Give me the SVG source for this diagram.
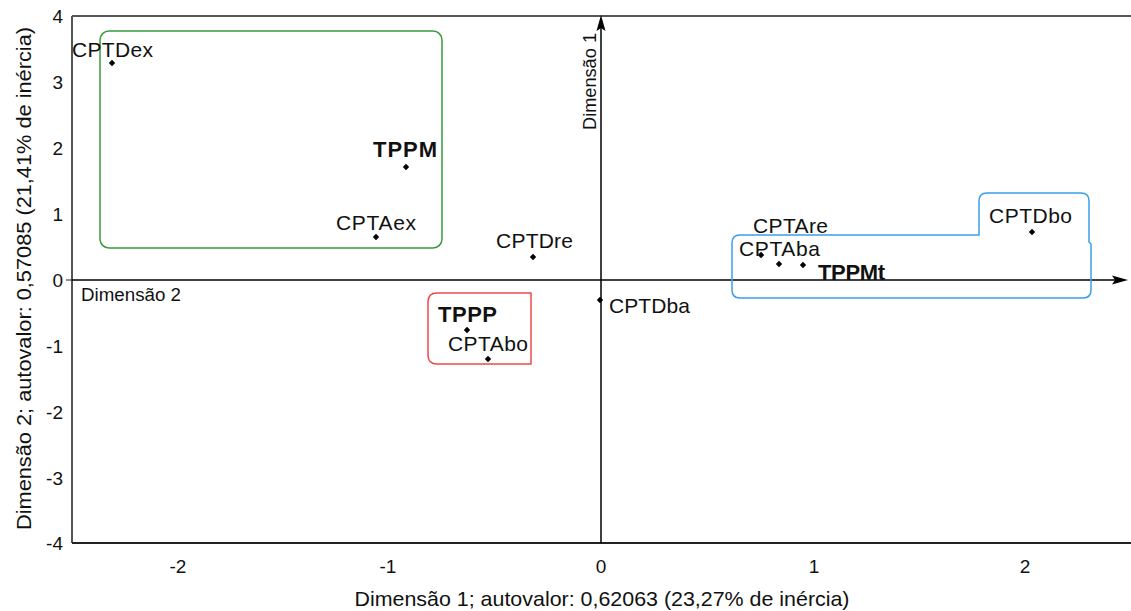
<svg xmlns="http://www.w3.org/2000/svg" width="1131" height="611" viewBox="0 0 1131 611">
<style>
text{font-family:"Liberation Sans",Arial,sans-serif;fill:#111}
.lbl{font-size:21px}
.bl{font-size:22px;font-weight:bold}
.tick{font-size:19px}
.title{font-size:21px}
.ax{font-size:18px}
.pt{fill:#000}
.frame{stroke:#555;stroke-width:2;fill:none}
.axis{stroke:#000;stroke-width:1.5;fill:none}
.box{fill:none;stroke-width:1.5}
</style>
<defs>
<path id="dm" d="M0,-3.2 L3.2,0 L0,3.2 L-3.2,0 Z"/>
</defs>
<rect width="1131" height="611" fill="#fff"/>

<g id="frame">
<line class="frame" x1="72" y1="16" x2="1131" y2="16"/>
<line class="frame" x1="72" y1="16" x2="72" y2="543"/>
<line x1="72" y1="543" x2="1131" y2="543" stroke="#222" stroke-width="2"/>
<line x1="66" y1="280" x2="72" y2="280" stroke="#222" stroke-width="1"/>
</g>

<g id="yticks" class="tick" text-anchor="end">
<text x="63" y="23">4</text>
<text x="63" y="89">3</text>
<text x="63" y="155">2</text>
<text x="63" y="221">1</text>
<text x="63" y="287">0</text>
<text x="63" y="353">-1</text>
<text x="63" y="419">-2</text>
<text x="63" y="485">-3</text>
<text x="63" y="550">-4</text>
</g>
<g id="xticks" class="tick" text-anchor="middle">
<text x="178" y="573">-2</text>
<text x="388" y="573">-1</text>
<text x="601" y="573">0</text>
<text x="814" y="573">1</text>
<text x="1025" y="573">2</text>
</g>
<text id="xtitle" class="title" x="602" y="606" text-anchor="middle" textLength="495" lengthAdjust="spacingAndGlyphs">Dimensão 1; autovalor: 0,62063 (23,27% de inércia)</text>
<text id="ytitle" class="title" transform="translate(31,278.5) rotate(-90)" text-anchor="middle" textLength="503" lengthAdjust="spacingAndGlyphs">Dimensão 2; autovalor: 0,57085 (21,41% de inércia)</text>

<g id="connectors">
<line class="axis" x1="72" y1="280" x2="1116" y2="280"/>
<path d="M1128,280 L1112,275.5 L1115,280 L1112,284.5 Z" fill="#000"/>
<line class="axis" x1="601" y1="543" x2="601" y2="27"/>
<path d="M601,15 L596.5,31 L601,28 L605.5,31 Z" fill="#000"/>
</g>
<text id="dim1" class="ax" transform="translate(596,130) rotate(-90)" textLength="97" lengthAdjust="spacingAndGlyphs">Dimensão 1</text>
<text id="dim2" class="ax" x="81" y="301" textLength="100" lengthAdjust="spacingAndGlyphs">Dimensão 2</text>

<g id="group-green"><rect class="box" x="100" y="31" width="342" height="217" rx="9" stroke="#3a9a3a"/></g>
<g id="group-red"><path class="box" stroke="#f04848" d="M531,293 L437,293 Q428,293 428,302 L428,355 Q428,364 437,364 L531,364 Z"/></g>
<g id="group-blue"><path class="box" stroke="#3a9ee8" d="M740,235 L979,235 L979,201 Q979,193 987,193 L1081,193 Q1089,193 1089,201 L1089,242 L1091,244 L1091,290 Q1091,298 1083,298 L740,298 Q732,298 732,290 L732,243 Q732,235 740,235 Z"/></g>

<g id="CPTDex"><use href="#dm" class="pt" x="112" y="63"/><text class="lbl" x="72" y="57" textLength="81">CPTDex</text></g>
<g id="TPPM"><use href="#dm" class="pt" x="406" y="167"/><text class="bl" x="373" y="157" textLength="64">TPPM</text></g>
<g id="CPTAex"><use href="#dm" class="pt" x="376" y="237"/><text class="lbl" x="336" y="230" textLength="80">CPTAex</text></g>
<g id="CPTDre"><use href="#dm" class="pt" x="533" y="257"/><text class="lbl" x="496" y="248" textLength="77">CPTDre</text></g>
<g id="CPTDba"><use href="#dm" class="pt" x="600" y="300"/><text class="lbl" x="609" y="313" textLength="81">CPTDba</text></g>
<g id="TPPP"><use href="#dm" class="pt" x="467" y="330"/><text class="bl" x="438" y="322" textLength="59">TPPP</text></g>
<g id="CPTAbo"><use href="#dm" class="pt" x="488" y="359"/><text class="lbl" x="448" y="351" textLength="80">CPTAbo</text></g>
<g id="CPTAre"><use href="#dm" class="pt" x="779" y="264"/><text class="lbl" x="753" y="233" textLength="75">CPTAre</text></g>
<g id="CPTAba"><use href="#dm" class="pt" x="761" y="255"/><text class="lbl" x="739" y="256" textLength="81">CPTAba</text></g>
<g id="TPPMt"><use href="#dm" class="pt" x="803" y="265"/><text class="bl" x="818" y="280" textLength="67">TPPMt</text></g>
<g id="CPTDbo"><use href="#dm" class="pt" x="1032" y="232"/><text class="lbl" x="989" y="223" textLength="83">CPTDbo</text></g>
</svg>
